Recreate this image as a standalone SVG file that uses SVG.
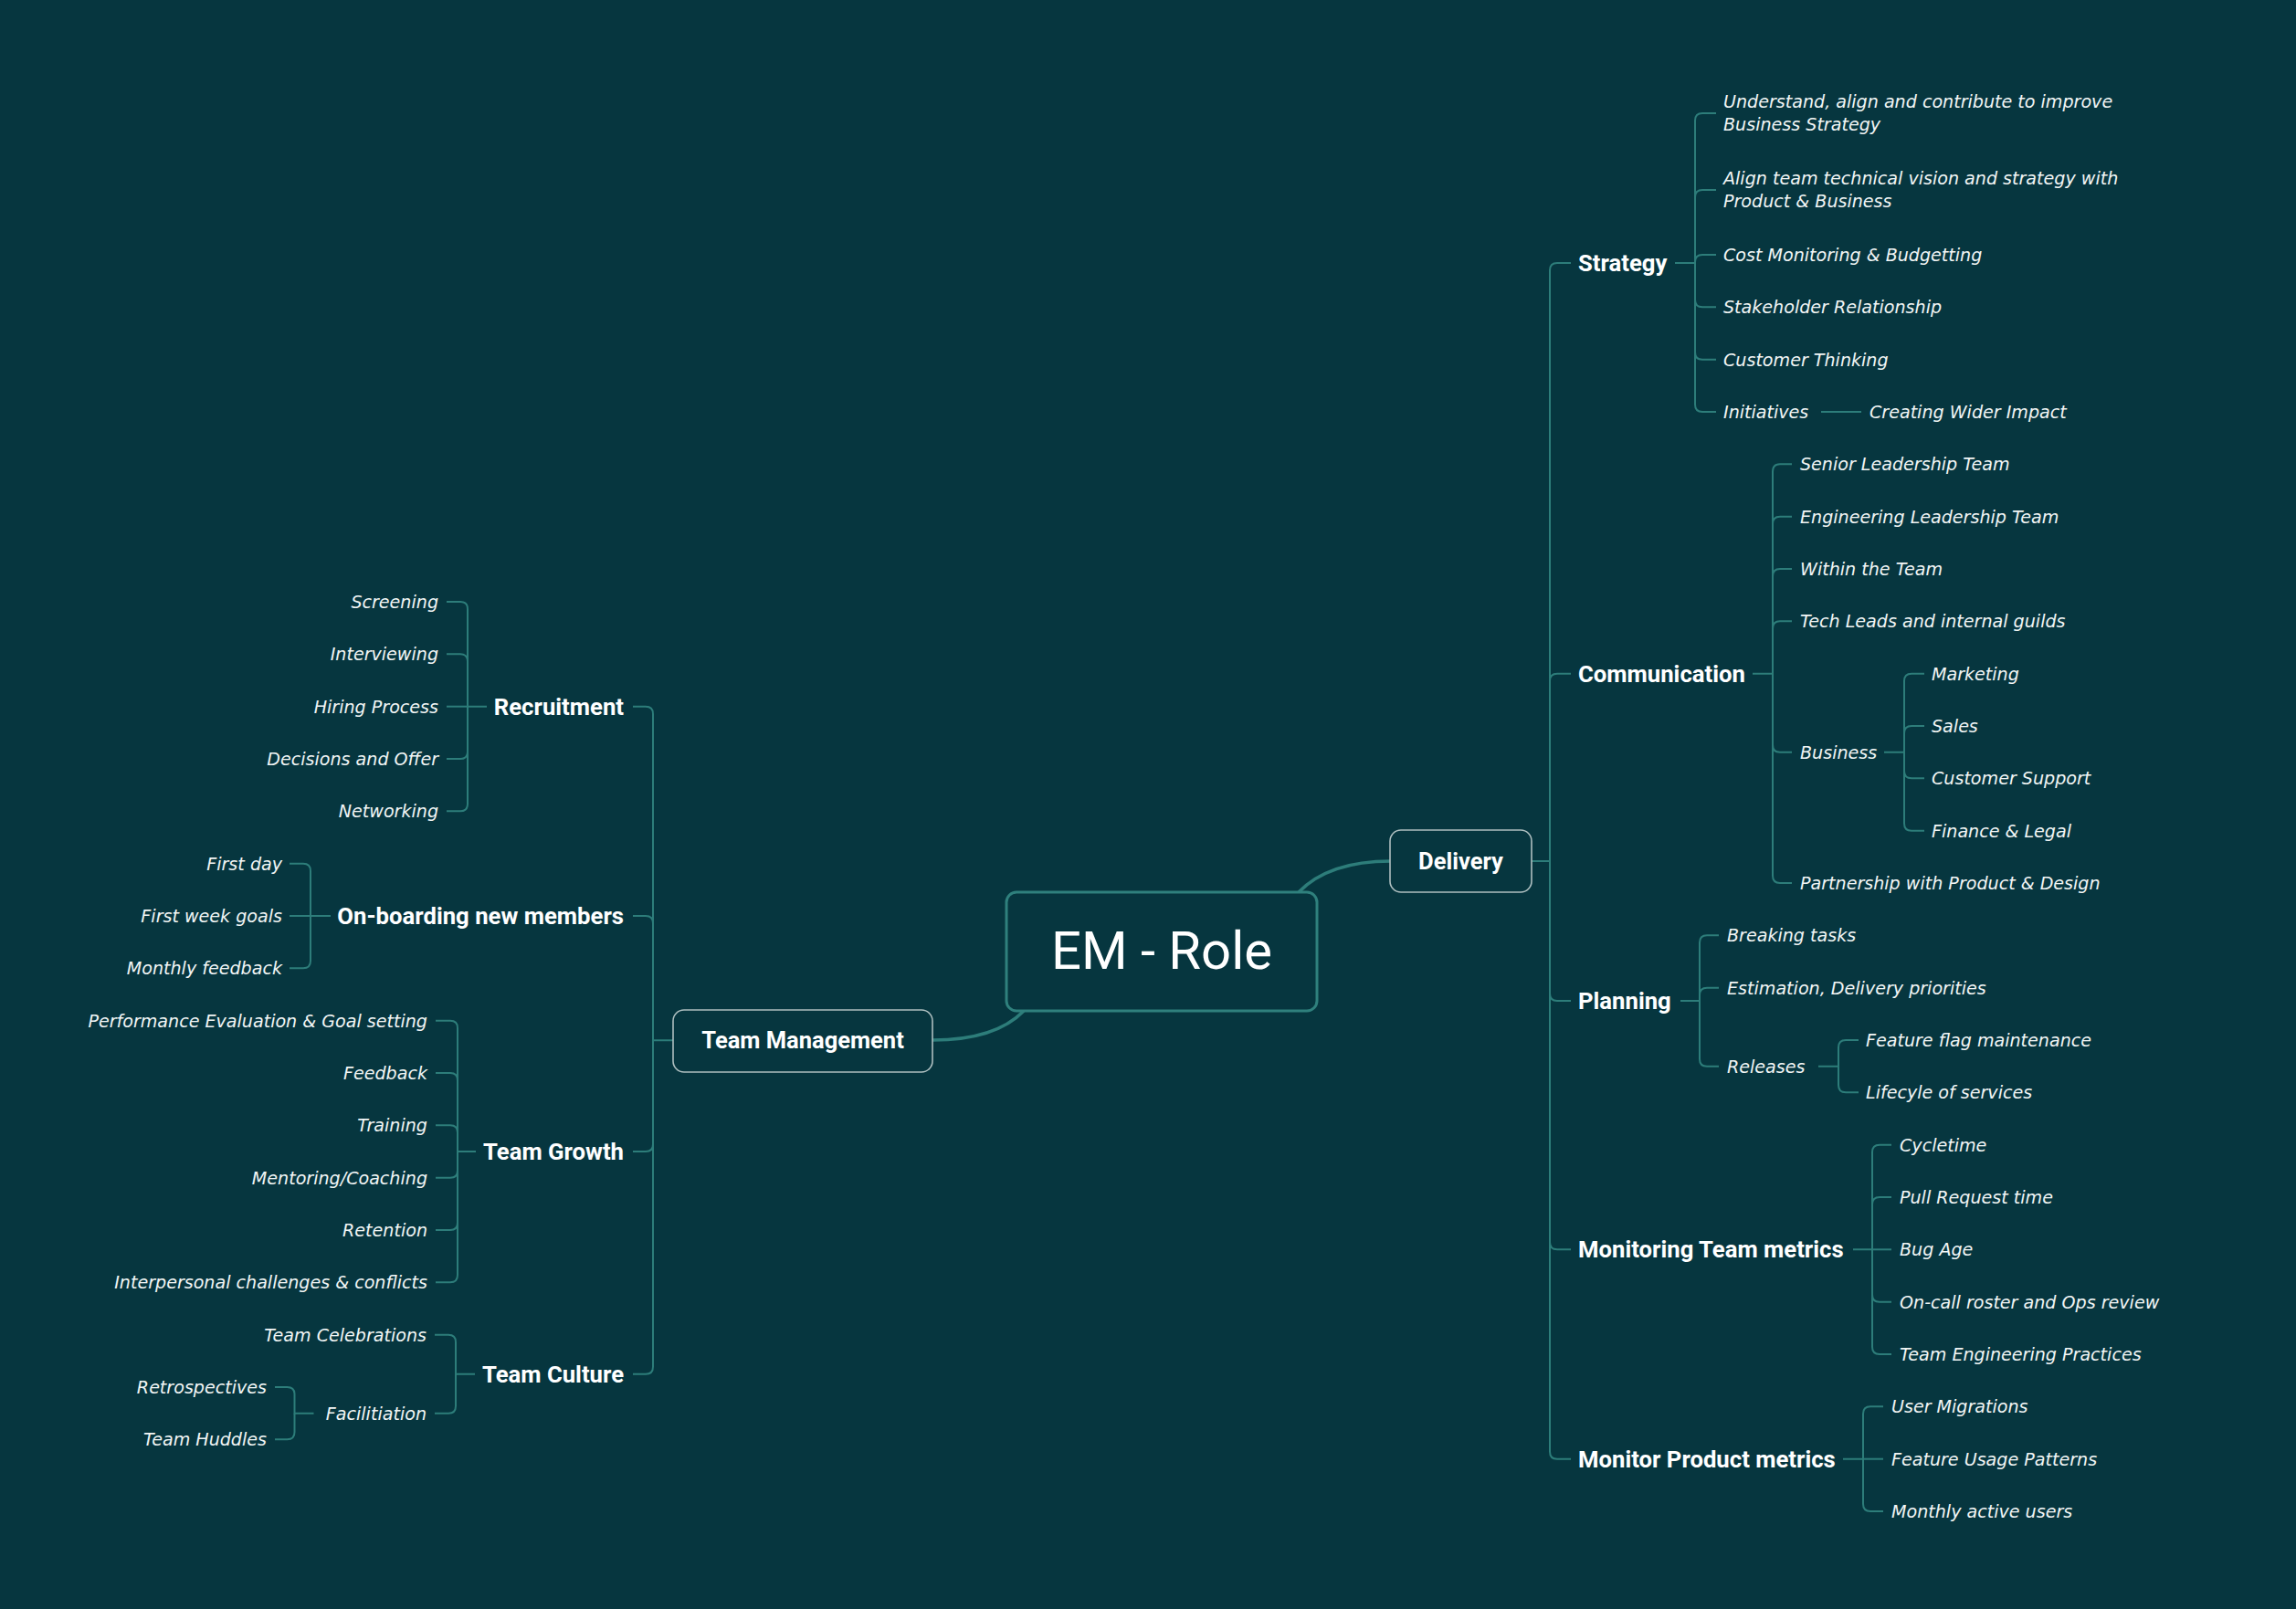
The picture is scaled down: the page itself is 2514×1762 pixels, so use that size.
<svg xmlns="http://www.w3.org/2000/svg" width="2514" height="1762" viewBox="0 0 2514 1762">
<style>
.bg{fill:#06363f}
.c{fill:none;stroke:#2d7d7a;stroke-width:2}
.cm{fill:none;stroke:#2d7d7a;stroke-width:3.5}
.root{fill:#06363f;stroke:#2f807d;stroke-width:3}
.box{fill:#06363f;stroke:#aebfc0;stroke-width:1.6}
.rt{font-family:Roboto,"Liberation Sans",sans-serif;font-size:58px;fill:#ffffff;text-anchor:middle}
.bt{font-family:Roboto,"Liberation Sans",sans-serif;font-weight:700;font-size:25.5px;fill:#ffffff;text-anchor:middle}
.sub{font-family:Roboto,"Liberation Sans",sans-serif;font-weight:700;font-size:25.7px;fill:#ffffff}
.lf{font-family:"DejaVu Sans","Liberation Sans",sans-serif;font-style:italic;font-size:19.1px;fill:#f1f5f5}
.e{text-anchor:end}
</style>
<rect class="bg" x="0" y="0" width="2514" height="1762"/>
<g id="connectors">
<path class="cm" d="M1422,977 Q1455,943 1523,943"/>
<path class="cm" d="M1021,1139 Q1090,1139 1121,1107"/>
<path class="c" d="M1677,943 H1697 V296 Q1697,288 1705,288 H1720"/>
<path class="c" d="M1697,943 V745.7 Q1697,737.7 1705,737.7 H1720"/>
<path class="c" d="M1697,943 V1088 Q1697,1096 1705,1096 H1720"/>
<path class="c" d="M1697,943 V1360.3 Q1697,1368.3 1705,1368.3 H1720"/>
<path class="c" d="M1697,943 V1589.7 Q1697,1597.7 1705,1597.7 H1720"/>
<path class="c" d="M1834,288 H1856 V132 Q1856,124 1864,124 H1879"/>
<path class="c" d="M1856,288 V216 Q1856,208 1864,208 H1879"/>
<path class="c" d="M1856,288 V287 Q1856,279 1864,279 H1879"/>
<path class="c" d="M1856,288 V328.3 Q1856,336.3 1864,336.3 H1879"/>
<path class="c" d="M1856,288 V385.7 Q1856,393.7 1864,393.7 H1879"/>
<path class="c" d="M1856,288 V443 Q1856,451 1864,451 H1879"/>
<path class="c" d="M1994,451 H2038"/>
<path class="c" d="M1919,737.7 H1941 V516.3 Q1941,508.3 1949,508.3 H1962"/>
<path class="c" d="M1941,737.7 V573.7 Q1941,565.7 1949,565.7 H1962"/>
<path class="c" d="M1941,737.7 V631 Q1941,623 1949,623 H1962"/>
<path class="c" d="M1941,737.7 V688.3 Q1941,680.3 1949,680.3 H1962"/>
<path class="c" d="M1941,737.7 V815.7 Q1941,823.7 1949,823.7 H1962"/>
<path class="c" d="M1941,737.7 V959 Q1941,967 1949,967 H1962"/>
<path class="c" d="M2063,823.7 H2085 V745.7 Q2085,737.7 2093,737.7 H2107"/>
<path class="c" d="M2085,823.7 V803 Q2085,795 2093,795 H2107"/>
<path class="c" d="M2085,823.7 V844.3 Q2085,852.3 2093,852.3 H2107"/>
<path class="c" d="M2085,823.7 V901.7 Q2085,909.7 2093,909.7 H2107"/>
<path class="c" d="M1840,1096 H1861 V1032.3 Q1861,1024.3 1869,1024.3 H1882"/>
<path class="c" d="M1861,1096 V1089.7 Q1861,1081.7 1869,1081.7 H1882"/>
<path class="c" d="M1861,1096 V1159.7 Q1861,1167.7 1869,1167.7 H1882"/>
<path class="c" d="M1991,1167.7 H2013 V1147 Q2013,1139 2021,1139 H2035"/>
<path class="c" d="M2013,1167.7 V1188.3 Q2013,1196.3 2021,1196.3 H2035"/>
<path class="c" d="M2029,1368.3 H2050 V1261.7 Q2050,1253.7 2058,1253.7 H2071"/>
<path class="c" d="M2050,1368.3 V1319 Q2050,1311 2058,1311 H2071"/>
<path class="c" d="M2050,1368.3 H2071"/>
<path class="c" d="M2050,1368.3 V1417.7 Q2050,1425.7 2058,1425.7 H2071"/>
<path class="c" d="M2050,1368.3 V1475 Q2050,1483 2058,1483 H2071"/>
<path class="c" d="M2018,1597.7 H2040 V1548.3 Q2040,1540.3 2048,1540.3 H2062"/>
<path class="c" d="M2040,1597.7 H2062"/>
<path class="c" d="M2040,1597.7 V1647 Q2040,1655 2048,1655 H2062"/>
<path class="c" d="M737,1139.2 H715 V781.7 Q715,773.7 707,773.7 H693"/>
<path class="c" d="M715,1139.2 V1011 Q715,1003 707,1003 H693"/>
<path class="c" d="M715,1139.2 V1253 Q715,1261 707,1261 H693"/>
<path class="c" d="M715,1139.2 V1496.7 Q715,1504.7 707,1504.7 H693"/>
<path class="c" d="M533,773.7 H512 V667 Q512,659 504,659 H489"/>
<path class="c" d="M512,773.7 V724.3 Q512,716.3 504,716.3 H489"/>
<path class="c" d="M512,773.7 H489"/>
<path class="c" d="M512,773.7 V823 Q512,831 504,831 H489"/>
<path class="c" d="M512,773.7 V880.3 Q512,888.3 504,888.3 H489"/>
<path class="c" d="M362,1003 H340 V953.7 Q340,945.7 332,945.7 H317"/>
<path class="c" d="M340,1003 H317"/>
<path class="c" d="M340,1003 V1052.3 Q340,1060.3 332,1060.3 H317"/>
<path class="c" d="M521,1261 H501 V1125.7 Q501,1117.7 493,1117.7 H477"/>
<path class="c" d="M501,1261 V1183 Q501,1175 493,1175 H477"/>
<path class="c" d="M501,1261 V1240.3 Q501,1232.3 493,1232.3 H477"/>
<path class="c" d="M501,1261 V1281.7 Q501,1289.7 493,1289.7 H477"/>
<path class="c" d="M501,1261 V1339 Q501,1347 493,1347 H477"/>
<path class="c" d="M501,1261 V1396.3 Q501,1404.3 493,1404.3 H477"/>
<path class="c" d="M520,1504.7 H499 V1469.7 Q499,1461.7 491,1461.7 H476"/>
<path class="c" d="M499,1504.7 V1539.7 Q499,1547.7 491,1547.7 H476"/>
<path class="c" d="M343.5,1547.7 H322.5 V1527 Q322.5,1519 314.5,1519 H301"/>
<path class="c" d="M322.5,1547.7 V1568.3 Q322.5,1576.3 314.5,1576.3 H301"/>
</g>
<g id="em-role"><rect class="root" x="1102" y="977" width="340" height="130" rx="11"/><text class="rt" x="1272" y="1061">EM - Role</text></g>
<g id="delivery"><rect class="box" x="1522" y="909" width="155" height="68" rx="12"/><text class="bt" x="1599.5" y="952">Delivery</text></g>
<g id="team-management"><rect class="box" x="737" y="1106" width="284" height="68" rx="12"/><text class="bt" x="879" y="1148">Team Management</text></g>

<g id="strategy"><text class="sub" x="1728" y="297">Strategy</text></g>
<g id="s-understand"><text class="lf" x="1887" y="118">Understand, align and contribute to improve</text><text class="lf" x="1887" y="143">Business Strategy</text></g>
<g id="s-align"><text class="lf" x="1887" y="202">Align team technical vision and strategy with</text><text class="lf" x="1887" y="227">Product &amp; Business</text></g>
<g id="s-cost"><text class="lf" x="1887" y="286">Cost Monitoring &amp; Budgetting</text></g>
<g id="s-stakeholder"><text class="lf" x="1887" y="343.3">Stakeholder Relationship</text></g>
<g id="s-customer"><text class="lf" x="1887" y="400.7">Customer Thinking</text></g>
<g id="s-initiatives"><text class="lf" x="1887" y="458">Initiatives</text></g>
<g id="s-wider"><text class="lf" x="2047" y="458">Creating Wider Impact</text></g>

<g id="communication"><text class="sub" x="1728" y="746.7">Communication</text></g>
<g id="c-senior"><text class="lf" x="1971" y="515.3">Senior Leadership Team</text></g>
<g id="c-eng"><text class="lf" x="1971" y="572.7">Engineering Leadership Team</text></g>
<g id="c-within"><text class="lf" x="1971" y="630">Within the Team</text></g>
<g id="c-tech"><text class="lf" x="1971" y="687.3">Tech Leads and internal guilds</text></g>
<g id="c-business"><text class="lf" x="1971" y="830.7">Business</text></g>
<g id="b-marketing"><text class="lf" x="2115" y="744.7">Marketing</text></g>
<g id="b-sales"><text class="lf" x="2115" y="802">Sales</text></g>
<g id="b-support"><text class="lf" x="2115" y="859.3">Customer Support</text></g>
<g id="b-finance"><text class="lf" x="2115" y="916.7">Finance &amp; Legal</text></g>
<g id="c-partnership"><text class="lf" x="1971" y="974">Partnership with Product &amp; Design</text></g>

<g id="planning"><text class="sub" x="1728" y="1105">Planning</text></g>
<g id="p-breaking"><text class="lf" x="1891" y="1031.3">Breaking tasks</text></g>
<g id="p-estimation"><text class="lf" x="1891" y="1088.7">Estimation, Delivery priorities</text></g>
<g id="p-releases"><text class="lf" x="1891" y="1174.7">Releases</text></g>
<g id="r-flag"><text class="lf" x="2043" y="1146">Feature flag maintenance</text></g>
<g id="r-lifecycle"><text class="lf" x="2043" y="1203.3">Lifecyle of services</text></g>

<g id="monitoring-team"><text class="sub" x="1728" y="1377.3">Monitoring Team metrics</text></g>
<g id="m-cycle"><text class="lf" x="2080" y="1260.7">Cycletime</text></g>
<g id="m-pr"><text class="lf" x="2080" y="1318">Pull Request time</text></g>
<g id="m-bug"><text class="lf" x="2080" y="1375.3">Bug Age</text></g>
<g id="m-oncall"><text class="lf" x="2080" y="1432.7">On-call roster and Ops review</text></g>
<g id="m-practices"><text class="lf" x="2080" y="1490">Team Engineering Practices</text></g>

<g id="monitor-product"><text class="sub" x="1728" y="1606.7">Monitor Product metrics</text></g>
<g id="mp-migrations"><text class="lf" x="2071" y="1547.3">User Migrations</text></g>
<g id="mp-usage"><text class="lf" x="2071" y="1604.7">Feature Usage Patterns</text></g>
<g id="mp-mau"><text class="lf" x="2071" y="1662">Monthly active users</text></g>

<g id="recruitment"><text class="sub e" x="683" y="782.7">Recruitment</text></g>
<g id="r-screening"><text class="lf e" x="480" y="666">Screening</text></g>
<g id="r-interviewing"><text class="lf e" x="480" y="723.3">Interviewing</text></g>
<g id="r-hiring"><text class="lf e" x="480" y="780.7">Hiring Process</text></g>
<g id="r-decisions"><text class="lf e" x="480" y="838">Decisions and Offer</text></g>
<g id="r-networking"><text class="lf e" x="480" y="895.3">Networking</text></g>

<g id="onboarding"><text class="sub e" x="683" y="1012">On-boarding new members</text></g>
<g id="o-firstday"><text class="lf e" x="309" y="952.7">First day</text></g>
<g id="o-firstweek"><text class="lf e" x="309" y="1010">First week goals</text></g>
<g id="o-monthly"><text class="lf e" x="309" y="1067.3">Monthly feedback</text></g>

<g id="team-growth"><text class="sub e" x="683" y="1270">Team Growth</text></g>
<g id="g-perf"><text class="lf e" x="468" y="1124.7">Performance Evaluation &amp; Goal setting</text></g>
<g id="g-feedback"><text class="lf e" x="468" y="1182">Feedback</text></g>
<g id="g-training"><text class="lf e" x="468" y="1239.3">Training</text></g>
<g id="g-mentoring"><text class="lf e" x="468" y="1296.7">Mentoring/Coaching</text></g>
<g id="g-retention"><text class="lf e" x="468" y="1354">Retention</text></g>
<g id="g-interpersonal"><text class="lf e" x="468" y="1411.3">Interpersonal challenges &amp; conflicts</text></g>

<g id="team-culture"><text class="sub e" x="683" y="1513.7">Team Culture</text></g>
<g id="t-celebrations"><text class="lf e" x="467" y="1468.7">Team Celebrations</text></g>
<g id="t-facilitation"><text class="lf e" x="467" y="1554.7">Facilitiation</text></g>
<g id="f-retro"><text class="lf e" x="292" y="1526">Retrospectives</text></g>
<g id="f-huddles"><text class="lf e" x="292" y="1583.3">Team Huddles</text></g>
</svg>
